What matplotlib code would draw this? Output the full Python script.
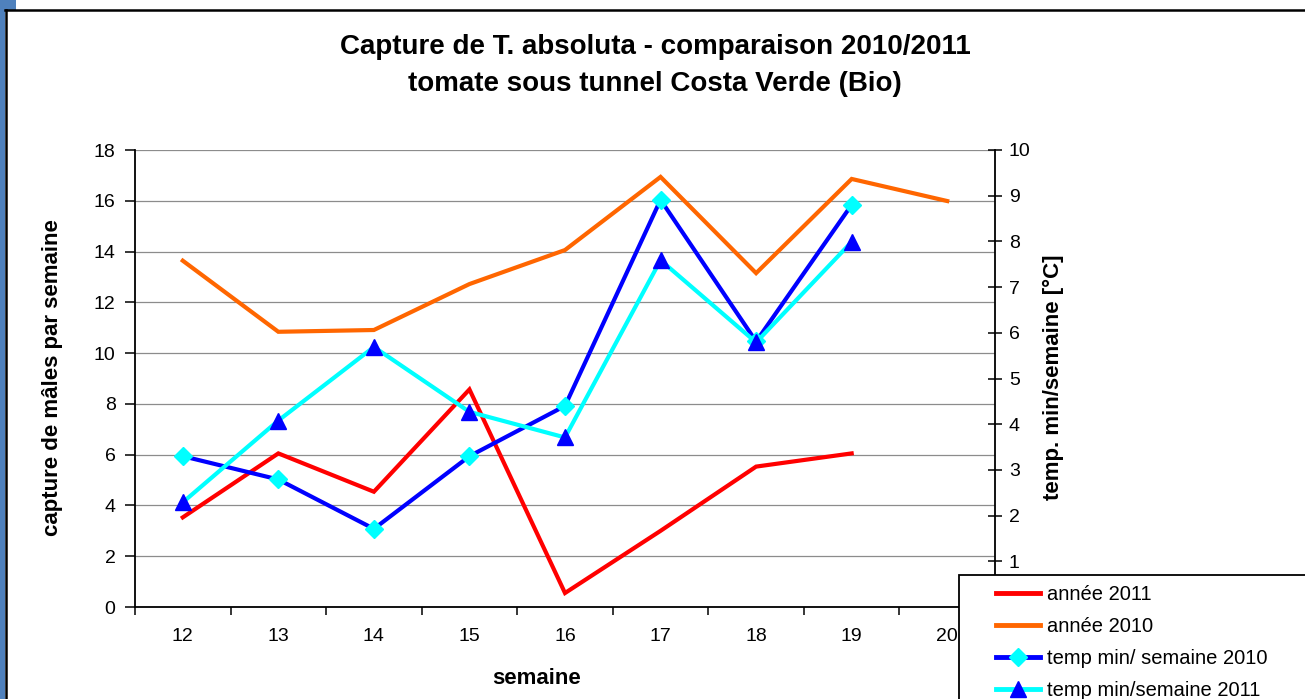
import matplotlib
matplotlib.use("Agg")
import matplotlib.pyplot as plt
from matplotlib.patches import Rectangle
from matplotlib.lines import Line2D

plt.rcParams['font.family'] = ['Liberation Sans', 'DejaVu Sans']

# ---- data ----
weeks = [12, 13, 14, 15, 16, 17, 18, 19, 20]
capture_2011 = [3.53, 6.05, 4.54, 8.57, 0.55, 3.0, 5.53, 6.05]
capture_2010 = [13.64, 10.84, 10.91, 12.72, 14.06, 16.94, 13.15, 16.86, 15.99]
temp_2010 = [3.30, 2.79, 1.71, 3.30, 4.40, 8.91, 5.81, 8.80]
temp_2011 = [2.29, 4.08, 5.69, 4.27, 3.71, 7.59, 5.79, 7.99]

left_ticks = list(range(0, 19, 2))
right_ticks = list(range(0, 11))

RED, ORANGE, BLUE, CYAN = "#ff0000", "#ff6600", "#0000ff", "#00ffff"

W, H = 1305, 699
fig = plt.figure(figsize=(W / 100, H / 100), dpi=100)

def fx(px):
    return px / W

def fy(py):
    return 1 - py / H

# window decoration: blue strip + black frame
fig.patches.append(Rectangle((0, 0), fx(5), 1, transform=fig.transFigure,
                             facecolor="#4f81bd", edgecolor="none", zorder=0))
fig.patches.append(Rectangle((0, fy(10)), fx(16), fy(0) - fy(10), transform=fig.transFigure,
                             facecolor="#4f81bd", edgecolor="none", zorder=0))
fig.lines.append(Line2D([fx(5), 1], [fy(10), fy(10)], transform=fig.transFigure,
                        color="black", lw=1.8))
fig.lines.append(Line2D([fx(6), fx(6)], [0, fy(10)], transform=fig.transFigure,
                        color="black", lw=1.8))

ax = fig.add_axes([fx(135), fy(607), fx(995) - fx(135), fy(150) - fy(607)])
ax.set_xlim(11.5, 20.5)
ax.set_ylim(0, 18)
ax.set_yticks(left_ticks)
ax.yaxis.grid(True, color="#8c8c8c", lw=0.9)
ax.set_axisbelow(True)
ax.set_xticks([w - 0.5 for w in weeks] + [weeks[-1] + 0.5])
ax.set_xticklabels([])
ax.set_xticks(weeks, minor=True)
ax.set_xticklabels([str(w) for w in weeks], minor=True)
ax.tick_params(axis="x", which="major", length=6, width=1.1, direction="out")
ax.tick_params(axis="x", which="minor", length=0, pad=15, labelsize=14)
ax.tick_params(axis="y", length=7, width=1.1, direction="out", pad=7, labelsize=14)
ax.spines["top"].set_visible(False)
ax.spines["right"].set_visible(False)
for s in ("left", "bottom"):
    ax.spines[s].set_linewidth(1.3)

ax.plot(weeks[:len(capture_2011)], capture_2011, color=RED, lw=3.0, solid_joinstyle="miter")
ax.plot(weeks[:len(capture_2010)], capture_2010, color=ORANGE, lw=3.0, solid_joinstyle="miter")

ax2 = ax.twinx()
ax2.set_ylim(0, 10)
ax2.set_yticks(right_ticks)
ax2.tick_params(axis="y", length=10, width=1.1, direction="inout", pad=5, labelsize=14)
ax2.spines["right"].set_linewidth(1.3)
ax2.spines["top"].set_visible(False)
ax2.spines["left"].set_visible(False)
ax2.spines["bottom"].set_visible(False)

ax2.plot(weeks[:len(temp_2010)], temp_2010, color=BLUE, lw=3.0,
         marker="D", ms=9, mfc=CYAN, mec=CYAN, solid_joinstyle="miter")
ax2.plot(weeks[:len(temp_2011)], temp_2011, color=CYAN, lw=3.0,
         marker="^", ms=11.5, mfc=BLUE, mec=BLUE, solid_joinstyle="miter")

# titles and axis labels
fig.text(fx(655), fy(47), "Capture de T. absoluta - comparaison 2010/2011",
         ha="center", va="center", fontsize=20, weight="bold")
fig.text(fx(655), fy(84), "tomate sous tunnel Costa Verde (Bio)",
         ha="center", va="center", fontsize=20, weight="bold")
fig.text(fx(537), fy(678), "semaine", ha="center", va="center",
         fontsize=16, weight="bold")
fig.text(fx(53), fy(378), "capture de mâles par semaine", ha="center", va="center",
         rotation=90, fontsize=16, weight="bold")
fig.text(fx(1053), fy(377), "temp. min/semaine [°C]", ha="center", va="center",
         rotation=90, fontsize=16, weight="bold")

# legend: white box running off the figure edge
fig.patches.append(Rectangle((fx(959), fy(720)), fx(380), fy(575) - fy(720),
                             transform=fig.transFigure, facecolor="white",
                             edgecolor="black", lw=1.3, zorder=4))
handles = [
    Line2D([], [], color=RED, lw=3.5),
    Line2D([], [], color=ORANGE, lw=3.5),
    Line2D([], [], color=BLUE, lw=3.5, marker="D", ms=9.5, mfc=CYAN, mec=CYAN),
    Line2D([], [], color=CYAN, lw=3.5, marker="^", ms=12, mfc=BLUE, mec=BLUE),
]
labels = ["année 2011", "année 2010", "temp min/ semaine 2010", "temp min/semaine 2011"]
leg = fig.legend(handles, labels, loc="upper left",
                 bbox_to_anchor=(fx(996), fy(585)), bbox_transform=fig.transFigure,
                 frameon=False, fontsize=14.5, borderpad=0, borderaxespad=0,
                 handlelength=2.2, handletextpad=0.35, labelspacing=0.64)
leg.set_zorder(6)

fig.savefig("out.png", dpi=100)
